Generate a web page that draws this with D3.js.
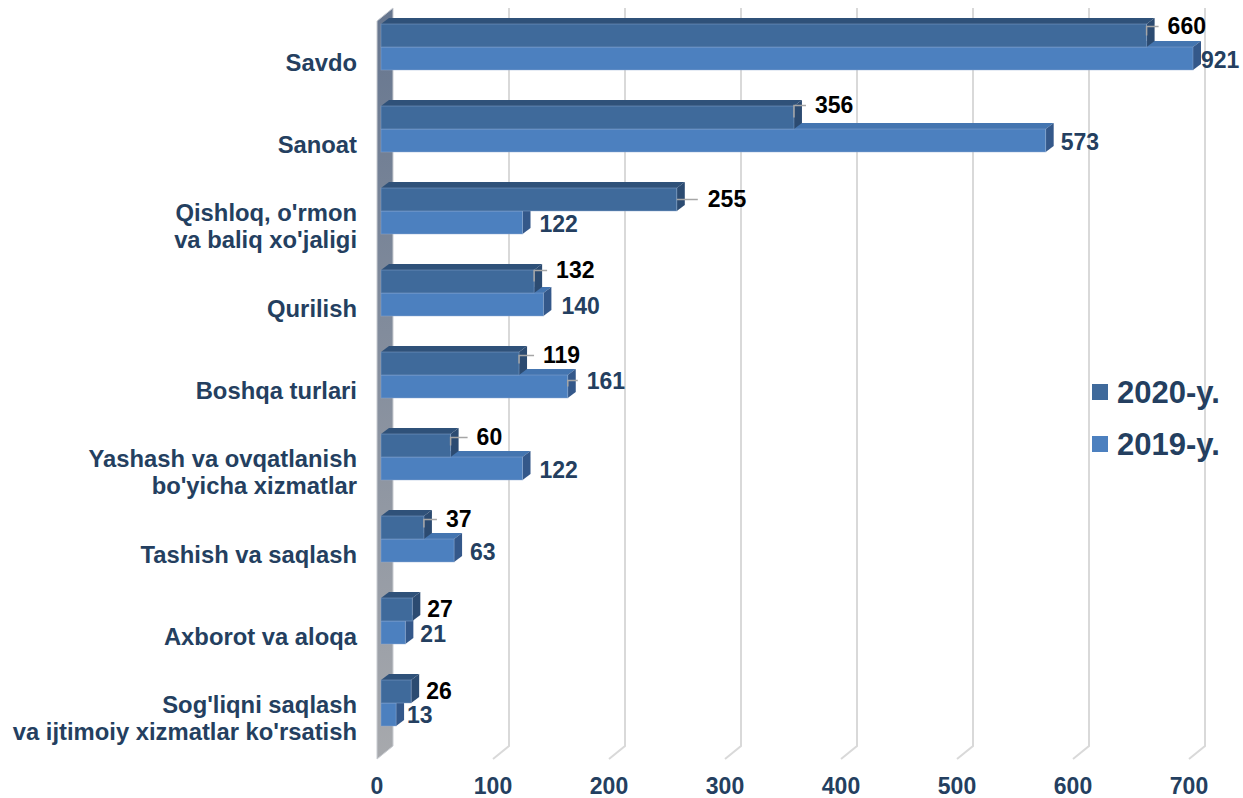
<!DOCTYPE html>
<html>
<head>
<meta charset="utf-8">
<script src="https://cdn.jsdelivr.net/npm/d3@7"></script>
<style>
  body { margin: 0; background: #fff; }
  svg { display: block; font-family: "Liberation Sans", Arial, sans-serif; font-weight: bold; }
</style>
</head>
<body>
<svg id="chart" width="1243" height="798"></svg>
<script>
// data
const categories = [
  "Savdo",
  "Sanoat",
  "Qishloq, o'rmon\nva baliq xo'jaligi",
  "Qurilish",
  "Boshqa turlari",
  "Yashash va ovqatlanish\nbo'yicha xizmatlar",
  "Tashish va saqlash",
  "Axborot va aloqa",
  "Sog'liqni saqlash\nva ijtimoiy xizmatlar ko'rsatish"
];
const seriesNames = ["2020-y.", "2019-y."];
const values2020 = [660, 356, 255, 132, 119, 60, 37, 27, 26];
const values2019 = [921, 573, 122, 140, 161, 122, 63, 21, 13];
const xTicks = [0, 100, 200, 300, 400, 500, 600, 700];

// label nudges (layout only)
const lift2020 = [9, 12, 0, 11, 8, 8, 8, 0, 0];
const gap2020 = [21, 21, 31, 22, 24, 26, 22, 15, 15];
const lift2019 = [-1, -1, -1, -1, 6, -1, -1, -1, 0];
const gap2019 = [8, 15, 17, 18, 19, 17, 16, 15, 11];

const navy = "#243f60";
const colors = {
  "2020-y.": { front: "#3f6a9b", top: "#2f5179", side: "#2c4b71" },
  "2019-y.": { front: "#4c80bf", top: "#4475b0", side: "#34588a" }
};

const svg = d3.select("#chart");

// front plane of the 3d box
const plotTop = 21, plotBottom = 759;
const wallDX = 16, wallDY = -13;      // full depth of the box
const barDX = 8, barDY = -6;          // depth of one bar
const barShiftX = 4, barShiftY = -15; // bars sit inside the box

const x = d3.scaleLinear().domain([0, 700]).range([377, 1189]).clamp(true);
const y = d3.scaleBand().domain(categories).range([plotTop, plotBottom]);
const barBand = d3.scaleBand().domain(categories)
  .range([plotTop + barShiftY, plotBottom + barShiftY])
  .paddingInner(0.439).paddingOuter(0.2195);
const ySub = d3.scaleBand().domain(seriesNames).range([0, barBand.bandwidth()]);

// left wall
const grad = svg.append("defs").append("linearGradient")
  .attr("id", "wall").attr("x1", 0).attr("y1", 0).attr("x2", 0).attr("y2", 1);
grad.append("stop").attr("offset", "0%").attr("stop-color", "#66768f");
grad.append("stop").attr("offset", "100%").attr("stop-color", "#a7a9ad");

const x0 = x(0);
svg.append("path")
  .attr("d", `M${x0},${plotTop}L${x0 + wallDX},${plotTop + wallDY}L${x0 + wallDX},${plotBottom + wallDY}L${x0},${plotBottom}Z`)
  .attr("fill", "url(#wall)")
  .attr("stroke", "#c9ccd1")
  .attr("stroke-width", 1);

// gridlines on the back wall, bending onto the floor
svg.append("g")
  .selectAll("path")
  .data(xTicks.slice(1))
  .join("path")
  .attr("d", t => `M${x(t) + wallDX},${plotTop + wallDY}V${plotBottom + wallDY}L${x(t)},${plotBottom}`)
  .attr("fill", "none")
  .attr("stroke", "#d9d9d9")
  .attr("stroke-width", 2);

// one 3d bar
function bar3d(g, cat, name, v) {
  const c = colors[name];
  const left = x(0) + barShiftX;
  const right = x(v) + barShiftX;
  const top = barBand(cat) + ySub(name);
  const h = ySub.bandwidth();
  g.append("path")
    .attr("d", `M${left},${top}L${left + barDX},${top + barDY}L${right + barDX},${top + barDY}L${right},${top}Z`)
    .attr("fill", c.top);
  g.append("path")
    .attr("d", `M${right},${top}L${right + barDX},${top + barDY}L${right + barDX},${top + h + barDY}L${right},${top + h}Z`)
    .attr("fill", c.side);
  g.append("rect")
    .attr("x", left).attr("y", top)
    .attr("width", right - left).attr("height", h)
    .attr("fill", c.front)
    .attr("stroke", "#8eabd2")
    .attr("stroke-opacity", 0.45)
    .attr("stroke-width", 1);
}

const bars = svg.append("g");
categories.forEach((cat, i) => {
  bar3d(bars, cat, "2019-y.", values2019[i]);
  bar3d(bars, cat, "2020-y.", values2020[i]);
});

// data labels
const labels = svg.append("g").attr("font-size", 23);
function dataLabel(cat, name, v, lift, gap, fill) {
  const end = x(v) + barShiftX;
  const cy = barBand(cat) + ySub(name) + ySub.bandwidth() / 2;
  const ly = cy - lift;
  if (gap > 19 || (lift > 2 && name === "2019-y.")) {
    labels.append("path")
      .attr("d", lift > 2 ? `M${end},${cy}V${ly}H${end + gap - 9}` : `M${end},${cy}H${end + gap - 10}`)
      .attr("fill", "none")
      .attr("stroke", "#a6a6a6")
      .attr("stroke-width", 1.5);
  }
  labels.append("text")
    .attr("x", end + gap)
    .attr("y", ly)
    .attr("dominant-baseline", "central")
    .attr("fill", fill)
    .text(v);
}
categories.forEach((cat, i) => {
  dataLabel(cat, "2020-y.", values2020[i], lift2020[i], gap2020[i], "#000");
  dataLabel(cat, "2019-y.", values2019[i], lift2019[i], gap2019[i], navy);
});

// x axis labels
svg.append("g")
  .attr("font-size", 23)
  .attr("fill", navy)
  .attr("text-anchor", "middle")
  .selectAll("text")
  .data(xTicks)
  .join("text")
  .attr("x", t => x(t))
  .attr("y", 786)
  .attr("dominant-baseline", "central")
  .text(t => t);

// category labels
const catG = svg.append("g")
  .attr("font-size", 23.8)
  .attr("fill", navy)
  .attr("text-anchor", "end");
categories.forEach(cat => {
  const lines = cat.split("\n");
  const cy = y(cat) + y.bandwidth() / 2;
  const t = catG.append("text").attr("x", 357);
  lines.forEach((line, k) => {
    t.append("tspan")
      .attr("x", 357)
      .attr("y", cy + (k - (lines.length - 1) / 2) * 27.5)
      .attr("dominant-baseline", "central")
      .text(line);
  });
});

// legend
const legend = svg.append("g").attr("font-size", 31).attr("fill", navy);
seriesNames.forEach((name, k) => {
  const ly = 392 + k * 52;
  legend.append("rect")
    .attr("x", 1092).attr("y", ly - 8)
    .attr("width", 16).attr("height", 16)
    .attr("fill", colors[name].front);
  legend.append("text")
    .attr("x", 1117).attr("y", ly)
    .attr("dominant-baseline", "central")
    .text(name);
});
</script>
</body>
</html>
